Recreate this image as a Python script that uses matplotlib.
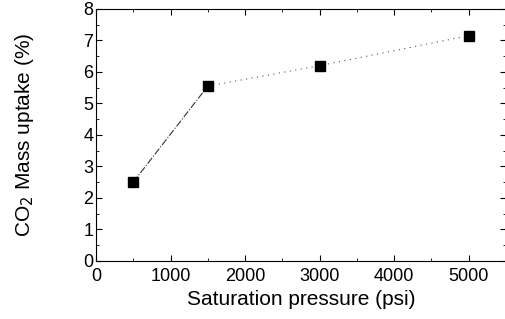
import matplotlib
matplotlib.use("Agg")
import matplotlib.pyplot as plt
from matplotlib.ticker import MultipleLocator

plt.rcParams['font.family'] = ['Liberation Sans', 'DejaVu Sans']

pressure = [500, 1500, 3000, 5000]
uptake = [2.5, 5.55, 6.2, 7.15]

fig = plt.figure(figsize=(5.05, 3.19), dpi=100)
ax = fig.add_axes([0.190, 0.182, 0.812, 0.790])

ax.plot(pressure[:2], uptake[:2], color='#333333', lw=0.8, ls='-.')
ax.plot(pressure[1:], uptake[1:], color='#555555', lw=0.8, ls=(0, (1, 4)))
ax.plot(pressure, uptake, 's', color='black', ms=7)

ax.set_xlim(0, 5500)
ax.set_ylim(0, 8)
ax.xaxis.set_major_locator(MultipleLocator(1000))
ax.xaxis.set_minor_locator(MultipleLocator(500))
ax.yaxis.set_major_locator(MultipleLocator(1))
ax.yaxis.set_minor_locator(MultipleLocator(0.5))
ax.tick_params(which='both', direction='in', top=True, right=True, labelsize=13)
ax.tick_params(which='major', length=4)
ax.tick_params(which='minor', length=2)
ax.tick_params(axis='y', which='major', pad=2)
ax.tick_params(axis='x', which='major', pad=5)
ax.set_xticks([0, 1000, 2000, 3000, 4000, 5000])

ax.set_xlabel('Saturation pressure (psi)', fontsize=15, labelpad=4)
ax.set_ylabel('CO$_2$ Mass uptake (%)', fontsize=15, labelpad=34)

fig.savefig('out.png', dpi=100)
